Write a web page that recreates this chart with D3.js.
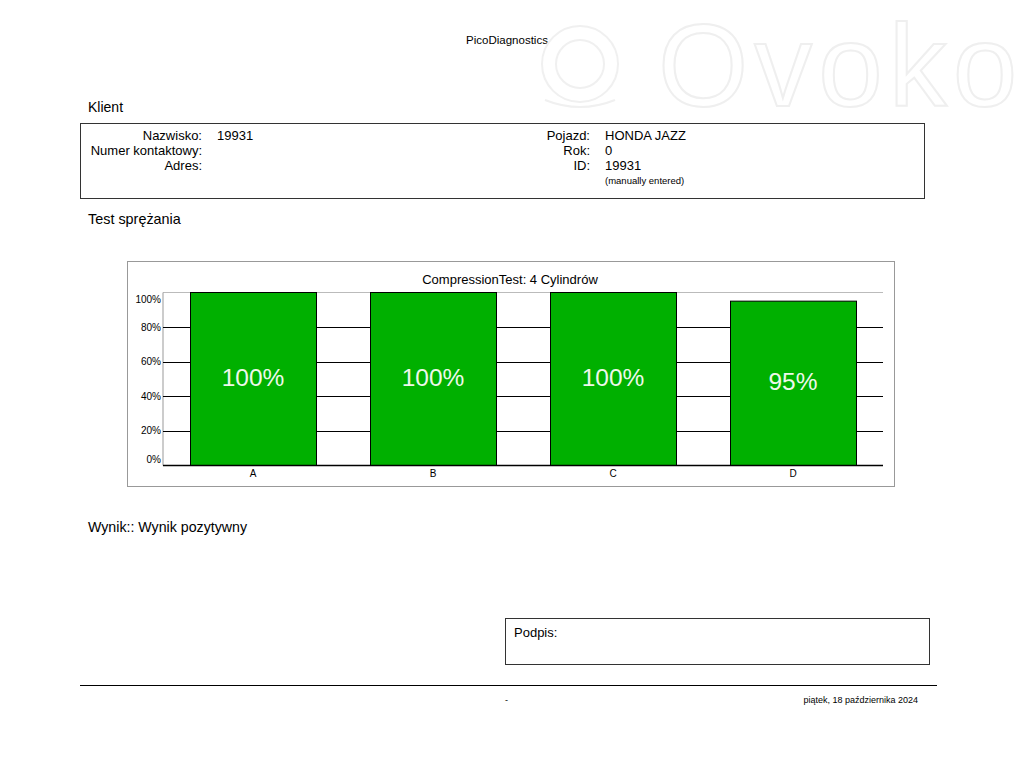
<!DOCTYPE html>
<html>
<head>
<meta charset="utf-8">
<script src="https://cdn.jsdelivr.net/npm/d3@7"></script>
<style>
  body { margin: 0; background: #fff; }
  svg { display: block; font-family: "Liberation Sans", Arial, sans-serif; }
</style>
</head>
<body>
<div id="canvas"></div>
<script>
"use strict";

/**** DATA ****/
let cylinders = ["A", "B", "C", "D"];
let values = [100, 100, 100, 95];
let yTicks = [0, 20, 40, 60, 80, 100];

let leftLabels = ["Nazwisko:", "Numer kontaktowy:", "Adres:"];
let leftValues = ["19931", "", ""];
let rightLabels = ["Pojazd:", "Rok:", "ID:"];
let rightValues = ["HONDA JAZZ", "0", "19931"];

/**** CANVAS ****/
let svgWidth = 1024;
let svgHeight = 768;

let svg = d3.select("#canvas")
    .append("svg")
    .attr("width", svgWidth)
    .attr("height", svgHeight);

/**** HEADER ****/
svg.append("text")
    .attr("x", 507)
    .attr("y", 44)
    .attr("text-anchor", "middle")
    .style("font-size", "11.5px")
    .text("PicoDiagnostics");

/**** WATERMARK (very faint) ****/
let wm = svg.append("g")
    .attr("fill", "none")
    .attr("stroke", "#f0f0f0")
    .attr("stroke-width", 2);

wm.append("circle").attr("cx", 580).attr("cy", 64).attr("r", 38);
wm.append("circle").attr("cx", 580).attr("cy", 64).attr("r", 24);
wm.append("path").attr("d", "M545 100 Q580 114 615 100");

svg.append("text")
    .attr("x", 658)
    .attr("y", 106)
    .attr("fill", "#fff")
    .attr("stroke", "#efefef")
    .attr("stroke-width", 2)
    .style("font-size", "116px")
    .style("letter-spacing", "6px")
    .text("Ovoko");

svg.append("text")
    .attr("x", 88)
    .attr("y", 112)
    .style("font-size", "14px")
    .text("Klient");

/**** CLIENT BOX ****/
svg.append("rect")
    .attr("x", 80.5)
    .attr("y", 123.5)
    .attr("width", 844)
    .attr("height", 75)
    .attr("fill", "none")
    .attr("stroke", "#333");

for (let i = 0; i < leftLabels.length; i++) {
    svg.append("text")
        .attr("x", 202)
        .attr("y", 139.5 + i * 15)
        .attr("text-anchor", "end")
        .style("font-size", "13px")
        .text(leftLabels[i]);
    svg.append("text")
        .attr("x", 217)
        .attr("y", 139.5 + i * 15)
        .style("font-size", "13px")
        .text(leftValues[i]);
}

for (let i = 0; i < rightLabels.length; i++) {
    svg.append("text")
        .attr("x", 590)
        .attr("y", 139.5 + i * 15)
        .attr("text-anchor", "end")
        .style("font-size", "13px")
        .text(rightLabels[i]);
    svg.append("text")
        .attr("x", 605)
        .attr("y", 139.5 + i * 15)
        .style("font-size", "13px")
        .text(rightValues[i]);
}

svg.append("text")
    .attr("x", 605)
    .attr("y", 184)
    .style("font-size", "9.5px")
    .text("(manually entered)");

svg.append("text")
    .attr("x", 88)
    .attr("y", 224)
    .style("font-size", "14.4px")
    .text("Test sprężania");

/**** CHART BOX ****/
svg.append("rect")
    .attr("x", 127.5)
    .attr("y", 261.5)
    .attr("width", 767)
    .attr("height", 225)
    .attr("fill", "none")
    .attr("stroke", "#999");

svg.append("text")
    .attr("x", 510)
    .attr("y", 283.5)
    .attr("text-anchor", "middle")
    .style("font-size", "13px")
    .text("CompressionTest: 4 Cylindrów");

/**** SCALES ****/
let plotLeft = 163;
let plotRight = 883;
let plotTop = 292.5;
let plotBottom = 465.5;

let xScale = d3.scaleBand()
    .domain(cylinders)
    .range([plotLeft, plotRight])
    .paddingInner(0.3)
    .paddingOuter(0.15);

let yScale = d3.scaleLinear()
    .domain([0, 100])
    .range([plotBottom, plotTop]);

/**** PLOT FRAME ****/
svg.append("line")
    .attr("x1", plotLeft).attr("x2", plotRight)
    .attr("y1", plotTop).attr("y2", plotTop)
    .attr("stroke", "#bbb");

svg.append("line")
    .attr("x1", plotLeft).attr("x2", plotLeft)
    .attr("y1", plotTop).attr("y2", plotBottom)
    .attr("stroke", "#999");

/**** GRID LINES + Y LABELS ****/
for (let i = 0; i < yTicks.length; i++) {
    let t = yTicks[i];
    if (t > 0 && t < 100) {
        svg.append("line")
            .attr("x1", plotLeft).attr("x2", plotRight)
            .attr("y1", Math.round(yScale(t)) + 0.5)
            .attr("y2", Math.round(yScale(t)) + 0.5)
            .attr("stroke", "#000");
    }
    // keep the end labels inside the plot
    let dy = 3.5;
    if (t === 0) dy = -2.5;
    if (t === 100) dy = 10;
    svg.append("text")
        .attr("x", plotLeft - 2)
        .attr("y", yScale(t) + dy)
        .attr("text-anchor", "end")
        .style("font-size", "10px")
        .text(`${t}%`);
}

/**** BARS ****/
svg.selectAll("rect.bar")
    .data(values)
    .join("rect")
    .attr("class", "bar")
    .attr("x", function(d, i) { return xScale(cylinders[i]) + 0.5; })
    .attr("y", function(d) { return yScale(d); })
    .attr("width", xScale.bandwidth())
    .attr("height", function(d) { return plotBottom - yScale(d); })
    .attr("fill", "#00b000")
    .attr("stroke", "#000");

svg.selectAll("text.barlabel")
    .data(values)
    .join("text")
    .attr("class", "barlabel")
    .attr("x", function(d, i) { return xScale(cylinders[i]) + xScale.bandwidth() / 2; })
    .attr("y", function(d) { return (yScale(d) + plotBottom) / 2 + 6.5; })
    .attr("text-anchor", "middle")
    .attr("fill", "#eef8ea")
    .style("font-size", "24.5px")
    .text(function(d) { return `${d}%`; });

/**** X AXIS ****/
svg.append("line")
    .attr("x1", plotLeft).attr("x2", plotRight)
    .attr("y1", plotBottom).attr("y2", plotBottom)
    .attr("stroke", "#000")
    .attr("stroke-width", 1.5);

for (let i = 0; i < cylinders.length; i++) {
    svg.append("text")
        .attr("x", xScale(cylinders[i]) + xScale.bandwidth() / 2)
        .attr("y", 477)
        .attr("text-anchor", "middle")
        .style("font-size", "10px")
        .text(cylinders[i]);
}

/**** RESULT ****/
svg.append("text")
    .attr("x", 88)
    .attr("y", 532)
    .style("font-size", "14.2px")
    .text("Wynik:: Wynik pozytywny");

/**** SIGNATURE BOX ****/
svg.append("rect")
    .attr("x", 505.5)
    .attr("y", 618.5)
    .attr("width", 424)
    .attr("height", 46)
    .attr("fill", "none")
    .attr("stroke", "#333");

svg.append("text")
    .attr("x", 514)
    .attr("y", 637)
    .style("font-size", "13px")
    .text("Podpis:");

/**** FOOTER ****/
svg.append("line")
    .attr("x1", 80).attr("x2", 937)
    .attr("y1", 685.5).attr("y2", 685.5)
    .attr("stroke", "#000");

svg.append("text")
    .attr("x", 505)
    .attr("y", 703)
    .style("font-size", "9px")
    .text("-");

svg.append("text")
    .attr("x", 918)
    .attr("y", 703)
    .attr("text-anchor", "end")
    .style("font-size", "9px")
    .text("piątek, 18 października 2024");
</script>
</body>
</html>
